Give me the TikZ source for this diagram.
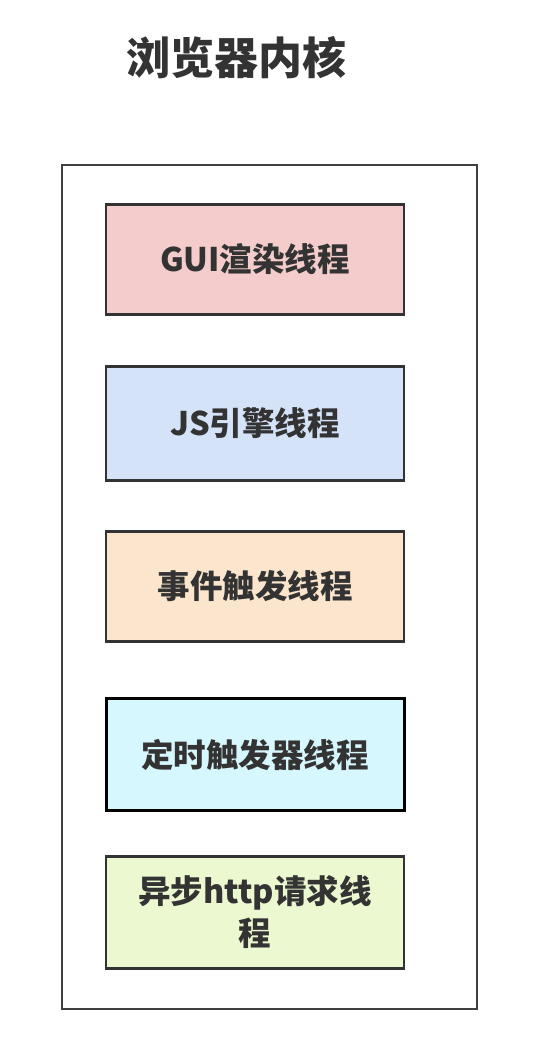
\documentclass[tikz,border=0pt]{standalone}
\usepackage{fontspec}
\newfontfamily\cjk{Noto Sans CJK SC}
\usepackage{tikz}
\usetikzlibrary{positioning}

\definecolor{guipink}{HTML}{F4CCCC}
\definecolor{jsblue}{HTML}{D5E3F8}
\definecolor{evtpeach}{HTML}{FBE5CD}
\definecolor{timercyan}{HTML}{D6F7FD}
\definecolor{httpgreen}{HTML}{EBF8D0}
\definecolor{txtgray}{HTML}{333333}

\begin{document}
\begin{tikzpicture}[x=1pt, y=-1pt, font=\cjk\bfseries,
    thread/.style={draw=black!80, line width=2.4pt, minimum width=298pt, minimum height=110pt,
        text=txtgray, font=\cjk\bfseries\fontsize{32.5}{42}\selectfont, align=center}]

        \useasboundingbox (0,0) rectangle (552,1052);

        % Title
        \node[text=txtgray, font=\cjk\bfseries\fontsize{44}{50}\selectfont] (title) at (236,58) {浏览器内核};

        % Outer frame of the kernel
        \node[draw=black!75, line width=2pt, minimum width=415pt, minimum height=844pt] (kernel) at (269,586.5) {};

        % The five threads
        \node[thread, fill=guipink] (gui) at (255,259.5) {GUI渲染线程};
        \node[thread, fill=jsblue, minimum height=114pt] (js) at (255,423.5) {JS引擎线程};
        \node[thread, fill=evtpeach] (event) at (255,586.5) {事件触发线程};
        \node[thread, fill=timercyan, draw=black, line width=3pt, minimum height=112pt] (timer) at (255,754.5) {定时触发器线程};
        \node[thread, fill=httpgreen, minimum height=112pt] (http) at (255,912.5) {异步http请求线\\程};
    \end{tikzpicture}
\end{document}
